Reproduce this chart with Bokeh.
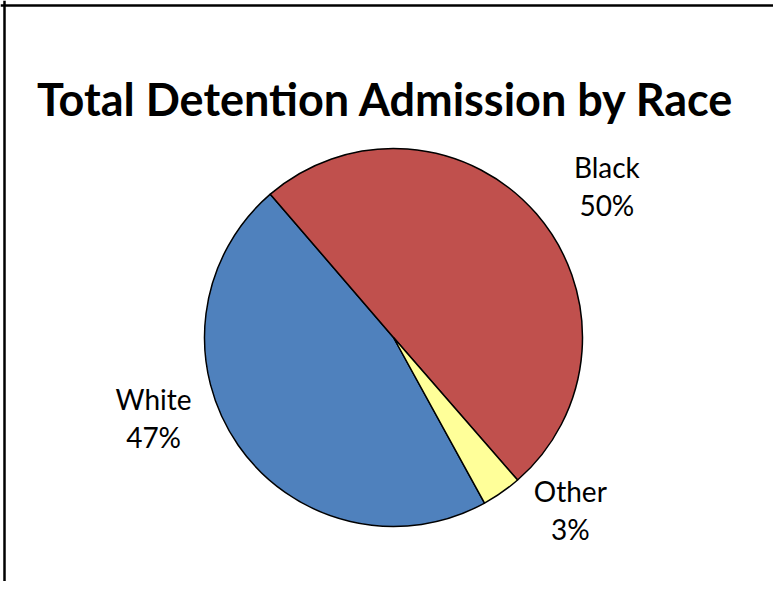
import math
from bokeh.plotting import figure
from bokeh.models import ColumnDataSource, Range1d, Label, Span
from bokeh.core.properties import value
from bokeh.embed import file_html
from bokeh.resources import INLINE

# ---- data ----
categories = ["White", "Black", "Other"]
shares = [46.7, 49.9, 3.4]
colors = ["#4F81BD", "#C0504D", "#FFFF99"]
title_text = "Total Detention Admission by Race"
first_slice_angle = 151.2  # degrees clockwise from 12 o'clock (Excel style)

# ---- layout (data units == pixels, y measured upward) ----
W, H = 773, 581
cx, cy, r = 393, H - 337, 189
label_dist = 253
label_nudge_x = [-32, 22, 32]
label_nudge_y = [-73, 5, -44]   # screen px, positive = down

total = sum(shares)
start = math.radians(90 - first_slice_angle)
starts, ends, mids = [], [], []
a = start
for v in shares:
    span = 2 * math.pi * v / total
    starts.append(a)
    ends.append(a - span)
    mids.append(a - span / 2)
    a -= span

src = ColumnDataSource(dict(cat=categories, start=starts, end=ends, color=colors))

lx = [cx + label_dist * math.cos(m) for m in mids]
ly = [cy + label_dist * math.sin(m) for m in mids]
pct = [f"{round(v / total * 100)}%" for v in shares]
lab = ColumnDataSource(dict(x=lx, y=ly, name=categories, pct=pct,
                            xo=label_nudge_x, yo1=[n - 10 for n in label_nudge_y],
                            yo2=[n + 28 for n in label_nudge_y]))

p = figure(width=W, height=H, output_backend="svg", toolbar_location=None,
           x_range=Range1d(0, W), y_range=Range1d(0, H),
           min_border=0)
p.axis.visible = False
p.grid.visible = False
p.outline_line_color = None
p.background_fill_color = "white"
p.border_fill_color = "white"

p.wedge(x=cx, y=cy, radius=r, start_angle="start", end_angle="end",
        direction="clock", fill_color="color", line_color="black",
        line_width=1.5, source=src)

p.text(x="x", y="y", text="name", x_offset="xo", y_offset="yo1", source=lab,
       text_font=value("Lato"), text_font_size="28px", text_color="black",
       text_align="center", text_baseline="alphabetic")
p.text(x="x", y="y", text="pct", x_offset="xo", y_offset="yo2", source=lab,
       text_font=value("Lato"), text_font_size="28px", text_color="black",
       text_align="center", text_baseline="alphabetic")

p.add_layout(Label(x=385.5, y=H - 98, text=title_text, text_font="Lato",
                   text_font_style="bold", text_font_size="45px",
                   text_align="center", text_baseline="alphabetic",
                   text_color="black"))

p.add_layout(Span(location=4, dimension="height", line_color="black", line_width=2.5))
p.add_layout(Span(location=H - 5, dimension="width", line_color="black", line_width=2.5))

open("out.html", "w").write(file_html(p, INLINE))
